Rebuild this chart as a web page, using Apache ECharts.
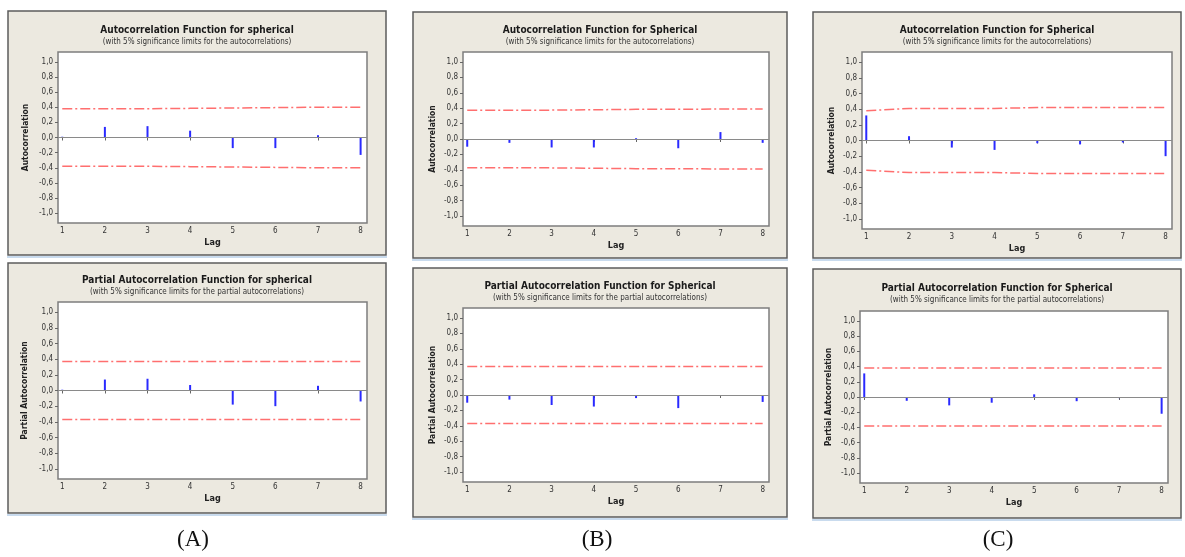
<!DOCTYPE html>
<html>
<head>
<meta charset="utf-8">
<script src="https://cdn.jsdelivr.net/npm/echarts@6/dist/echarts.min.js"></script>
<style>
  html, body { margin: 0; padding: 0; background: #fff; }
  #chart { width: 1185px; height: 557px; }
</style>
</head>
<body>
<div id="chart"></div>
<script>
// lags and tick labels
const lags = [1, 2, 3, 4, 5, 6, 7, 8];
const yTicks = [-1.0, -0.8, -0.6, -0.4, -0.2, 0.0, 0.2, 0.4, 0.6, 0.8, 1.0];

// (A)
const acfA = [0.01, 0.14, 0.15, 0.09, -0.14, -0.14, 0.03, -0.23];
const acfLimA = [0.38, 0.38, 0.38, 0.385, 0.39, 0.395, 0.40, 0.40];
const pacfA = [0.01, 0.14, 0.15, 0.07, -0.18, -0.20, 0.06, -0.14];
const pacfLimA = [0.37, 0.37, 0.37, 0.37, 0.37, 0.37, 0.37, 0.37];

// (B)
const acfB = [-0.10, -0.05, -0.11, -0.11, 0.01, -0.12, 0.09, -0.05];
const acfLimB = [0.375, 0.375, 0.375, 0.38, 0.385, 0.385, 0.39, 0.39];
const pacfB = [-0.10, -0.06, -0.13, -0.15, -0.04, -0.17, 0.0, -0.09];
const pacfLimB = [0.37, 0.37, 0.37, 0.37, 0.37, 0.37, 0.37, 0.37];

// (C)
const acfC = [0.32, 0.055, -0.09, -0.12, -0.035, -0.05, -0.025, -0.20];
const acfLimC = [0.38, 0.41, 0.41, 0.41, 0.42, 0.42, 0.42, 0.42];
const pacfC = [0.31, -0.05, -0.11, -0.075, 0.035, -0.055, -0.015, -0.22];
const pacfLimC = [0.38, 0.38, 0.38, 0.38, 0.38, 0.38, 0.38, 0.38];

const panelLabels = ['(A)', '(B)', '(C)'];

const SUB_ACF = '(with 5% significance limits for the autocorrelations)';
const SUB_PACF = '(with 5% significance limits for the partial autocorrelations)';

// layout of the six Minitab windows: frame [x, y, w, h], grid [left, top, w, h]
const panels = [
  { title: 'Autocorrelation Function for spherical', sub: SUB_ACF, yName: 'Autocorrelation',
    values: acfA, limits: acfLimA, frame: [8, 11, 378, 244], grid: [58, 52, 309, 171], titleTop: 24, nameGap: 28 },
  { title: 'Partial Autocorrelation Function for spherical', sub: SUB_PACF, yName: 'Partial Autocorrelation',
    values: pacfA, limits: pacfLimA, frame: [8, 263, 378, 250], grid: [58, 302, 309, 177], titleTop: 274, nameGap: 29 },
  { title: 'Autocorrelation Function for Spherical', sub: SUB_ACF, yName: 'Autocorrelation',
    values: acfB, limits: acfLimB, frame: [413, 12, 374, 246], grid: [463, 52, 306, 174], titleTop: 24, nameGap: 26 },
  { title: 'Partial Autocorrelation Function for Spherical', sub: SUB_PACF, yName: 'Partial Autocorrelation',
    values: pacfB, limits: pacfLimB, frame: [413, 268, 374, 249], grid: [463, 308, 306, 174], titleTop: 280, nameGap: 26 },
  { title: 'Autocorrelation Function for Spherical', sub: SUB_ACF, yName: 'Autocorrelation',
    values: acfC, limits: acfLimC, frame: [813, 12, 368, 246], grid: [862, 52, 310, 177], titleTop: 24, nameGap: 26 },
  { title: 'Partial Autocorrelation Function for Spherical', sub: SUB_PACF, yName: 'Partial Autocorrelation',
    values: pacfC, limits: pacfLimC, frame: [813, 269, 368, 249], grid: [860, 311, 308, 172], titleTop: 282, nameGap: 27 }
];

const labelCenters = [193, 597, 998];

const FONT = 'DejaVu Sans Condensed, Liberation Sans, sans-serif';
const fmt = v => v.toFixed(1).replace('.', ',');

const chart = echarts.init(document.getElementById('chart'), null, { renderer: 'canvas' });

const graphic = [];
const title = [];
const grid = [];
const xAxis = [];
const yAxis = [];
const series = [];

panels.forEach((p, i) => {
  const [fx, fy, fw, fh] = p.frame;
  graphic.push({
    type: 'rect', z: -10, silent: true,
    shape: { x: fx, y: fy, width: fw, height: fh },
    style: { fill: '#ECE9E0', stroke: '#5c5c5c', lineWidth: 1.5 }
  });
  // thin window edge below each frame
  graphic.push({
    type: 'rect', z: -11, silent: true,
    shape: { x: fx - 1, y: fy + fh + 1, width: fw + 2, height: 2 },
    style: { fill: '#c9dbee' }
  });

  title.push({
    text: p.title, subtext: p.sub,
    left: fx + fw / 2, top: p.titleTop, textAlign: 'center',
    padding: 0, itemGap: 1,
    textStyle: { fontFamily: FONT, fontSize: 10, fontWeight: 'bold', color: '#1a1a1a', lineHeight: 12 },
    subtextStyle: { fontFamily: FONT, fontSize: 8, color: '#333', lineHeight: 10 }
  });

  const [gl, gt, gw, gh] = p.grid;
  grid.push({
    left: gl, top: gt, width: gw, height: gh,
    show: true, backgroundColor: '#fff', borderColor: '#7d7d7d', borderWidth: 1.5
  });

  xAxis.push({
    type: 'value', gridIndex: i, min: 0.9, max: 8.15,
    name: 'Lag', nameLocation: 'middle', nameGap: 15,
    nameTextStyle: { fontFamily: FONT, fontSize: 9, fontWeight: 'bold', color: '#222' },
    splitLine: { show: false },
    axisLine: { show: false },
    axisTick: { show: true, length: 3, customValues: lags, lineStyle: { color: '#666' } },
    axisLabel: { customValues: lags, margin: 4, fontFamily: FONT, fontSize: 8, color: '#333' }
  });

  yAxis.push({
    type: 'value', gridIndex: i, min: -1.13, max: 1.13,
    name: p.yName, nameLocation: 'middle', nameGap: p.nameGap,
    nameTextStyle: { fontFamily: FONT, fontSize: 8.5, fontWeight: 'bold', color: '#222' },
    splitLine: { show: false },
    axisLine: { show: false },
    axisTick: { show: true, length: 3, customValues: yTicks, lineStyle: { color: '#666' } },
    axisLabel: { customValues: yTicks, formatter: fmt, margin: 5, fontFamily: FONT, fontSize: 8, color: '#333' }
  });

  series.push({
    type: 'bar', xAxisIndex: i, yAxisIndex: i, barWidth: 2,
    itemStyle: { color: '#2a2aff' },
    data: lags.map((l, k) => [l, p.values[k]]),
    markLine: {
      silent: true, symbol: 'none', animation: false,
      label: { show: false },
      lineStyle: { color: '#8a8a8a', type: 'solid', width: 1 },
      data: [{ yAxis: 0 }]
    }
  });
  const dash = { color: '#ff6f6f', width: 1.5, type: [10, 3, 2, 3] };
  series.push({
    type: 'line', xAxisIndex: i, yAxisIndex: i, showSymbol: false, silent: true,
    lineStyle: dash, data: lags.map((l, k) => [l, p.limits[k]])
  });
  series.push({
    type: 'line', xAxisIndex: i, yAxisIndex: i, showSymbol: false, silent: true,
    lineStyle: dash, data: lags.map((l, k) => [l, -p.limits[k]])
  });
});

panelLabels.forEach((t, i) => {
  graphic.push({
    type: 'text', silent: true,
    style: {
      text: t, x: labelCenters[i], y: 540,
      textAlign: 'center', textVerticalAlign: 'middle',
      font: '23px "Liberation Serif", "DejaVu Serif", serif', fill: '#111'
    }
  });
});

chart.setOption({
  animation: false,
  backgroundColor: '#fff',
  graphic: graphic,
  title: title,
  grid: grid,
  xAxis: xAxis,
  yAxis: yAxis,
  series: series
});
</script>
</body>
</html>
